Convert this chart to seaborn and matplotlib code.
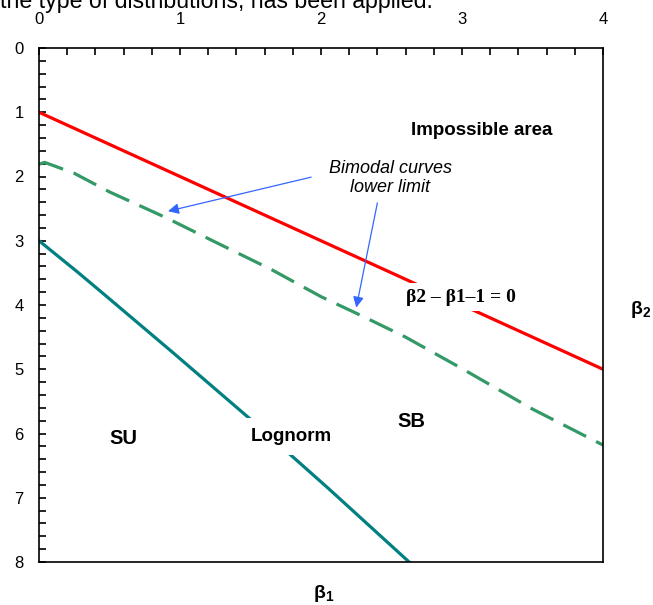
import matplotlib
matplotlib.use("Agg")
import matplotlib.pyplot as plt
from matplotlib.ticker import MultipleLocator
import seaborn as sns
import pandas as pd

# ---- data ----
red_b1 = [0.0, 4.0]
red_b2 = [1.0, 5.0]

bimodal_b1 = [0.0, 0.04, 0.25, 0.5, 0.9, 1.25, 1.65, 2.0, 2.3, 2.6, 3.0, 3.5, 4.0]
bimodal_b2 = [1.81, 1.78, 1.95, 2.24, 2.64, 3.02, 3.45, 3.87, 4.18, 4.5, 4.99, 5.62, 6.18]

lognorm_b1 = [0.0, 0.275, 0.465, 0.96, 1.49, 2.05, 2.64]
lognorm_b2 = [3.0, 3.49, 3.84, 4.76, 5.76, 6.85, 8.03]

x_ticks = [0, 1, 2, 3, 4]
y_ticks = [0, 1, 2, 3, 4, 5, 6, 7, 8]

sns.set_style("ticks")
plt.rcParams["font.family"] = ["Liberation Sans", "DejaVu Sans"]
plt.rcParams["text.color"] = "black"
plt.rcParams["xtick.color"] = "black"
plt.rcParams["ytick.color"] = "black"
plt.rcParams["mathtext.fontset"] = "custom"
plt.rcParams["mathtext.bf"] = "Liberation Sans:bold"
plt.rcParams["mathtext.rm"] = "Liberation Sans"

fig = plt.figure(figsize=(6.53, 6.05), dpi=100)
ax = fig.add_axes([39/653, 1-562/605, (603-39)/653, (562-48)/605])

df_red = pd.DataFrame({"b1": red_b1, "b2": red_b2})
df_bi = pd.DataFrame({"b1": bimodal_b1, "b2": bimodal_b2})
df_ln = pd.DataFrame({"b1": lognorm_b1, "b2": lognorm_b2})

sns.lineplot(data=df_red, x="b1", y="b2", ax=ax, color="#ff0000", lw=2.3,
             sort=False, estimator=None, zorder=2)
sns.lineplot(data=df_bi, x="b1", y="b2", ax=ax, color="#339966", lw=2.3,
             sort=False, estimator=None, zorder=2)
ax.lines[-1].set_dashes([8, 3.5])
sns.lineplot(data=df_ln, x="b1", y="b2", ax=ax, color="#008080", lw=2.3,
             sort=False, estimator=None, zorder=2)

ax.set_xlim(0, 4)
ax.set_ylim(8, 0)
ax.xaxis.tick_top()
ax.set_xticks(x_ticks)
ax.set_yticks(y_ticks)
ax.xaxis.set_minor_locator(MultipleLocator(0.2))
ax.yaxis.set_minor_locator(MultipleLocator(0.2))
ax.tick_params(which="both", direction="in", length=5, width=1.2, color="black",
               labelcolor="black", labelsize=12)
ax.tick_params(axis="x", which="both", top=True, bottom=False, pad=15)
ax.tick_params(axis="y", which="both", left=True, right=False, pad=11)
for s in ax.spines.values():
    s.set_visible(True)
    s.set_color("black")
    s.set_linewidth(1.2)
ax.set_xlabel("")
ax.set_ylabel("")

# ---- annotations ----
ax.text(3.14, 1.28, "Impossible area", ha="center", va="center",
        fontsize=13.5, fontweight="bold")
ax.text(2.49, 2.02, "Bimodal curves\nlower limit", ha="center", va="center",
        fontsize=13, style="italic", linespacing=1.15)
arrow_kw = dict(arrowstyle="-|>", color="#3366ff", lw=0.9, mutation_scale=16,
                shrinkA=0, shrinkB=0)
ax.annotate("", xy=(0.915, 2.54), xytext=(1.93, 2.01), arrowprops=arrow_kw)
ax.annotate("", xy=(2.25, 4.04), xytext=(2.40, 2.41), arrowprops=arrow_kw)

ax.text(2.99, 3.88, "β2 – β1–1 = 0", ha="center", va="center", fontsize=14,
        fontweight="bold", family="Liberation Serif", zorder=3,
        bbox=dict(facecolor="white", edgecolor="none", pad=4))
ax.text(1.79, 6.05, "Lognorm", ha="center", va="center", fontsize=13.5,
        fontweight="bold", zorder=3,
        bbox=dict(facecolor="white", edgecolor="none", pad=7))
ax.text(0.60, 6.08, "SU", ha="center", va="center", fontsize=14.5, fontweight="bold")
ax.text(2.64, 5.81, "SB", ha="center", va="center", fontsize=14.5, fontweight="bold")

fig.text(324/653, 1-593/605, "β$_\\mathbf{1}$", ha="center", va="center",
         fontsize=14, fontweight="bold")
fig.text(641/653, 1-310/605, "β$_\\mathbf{2}$", ha="center", va="center",
         fontsize=14, fontweight="bold")

fig.text(0.0, 1-8/605, "the type of distributions, has been applied.",
         ha="left", va="baseline", fontsize=16.7)

fig.savefig("out.png", dpi=100)
